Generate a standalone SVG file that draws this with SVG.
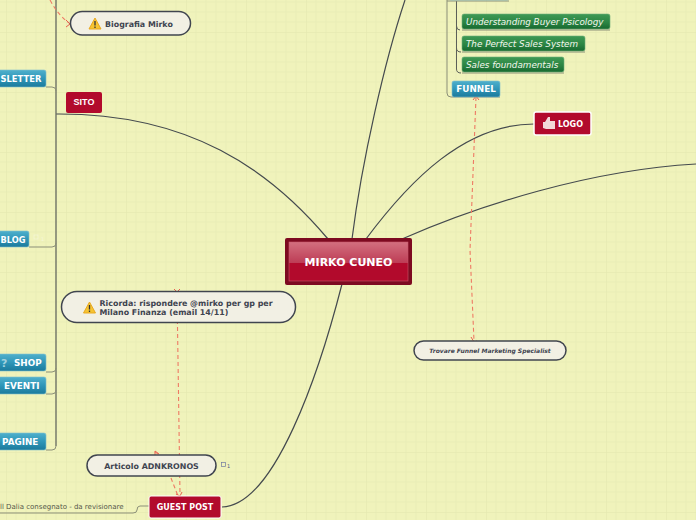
<svg xmlns="http://www.w3.org/2000/svg" width="696" height="520" viewBox="0 0 696 520">
<defs>
<style>
text{font-family:"DejaVu Sans",sans-serif}
.c{fill:none;stroke:#444a4e;stroke-width:1.2}
.t{fill:none;stroke:#8b8f78;stroke-width:1}
.d{fill:none;stroke:#ee7a64;stroke-width:1.100;stroke-dasharray:4 3}
.a{fill:none;stroke:#e8604f;stroke-width:1}
.p{fill:#f2f0e4;stroke:#40454f;stroke-width:1.500}
.pt{fill:#3f4450;font-weight:bold;font-size:7.9px}
.b{fill:url(#blue);stroke:#7fc0cf;stroke-width:.6}
.bt{fill:#fff;font-weight:bold;font-size:8.8px}
.g{fill:url(#green);stroke:#6fae78;stroke-width:.6}
.gt{fill:#f4f7ee;font-style:italic;font-size:8.8px}
.r{fill:#b20a2c}
</style>
<pattern id="grid" width="60" height="60" patternUnits="userSpaceOnUse" x="6" y="32">
<path d="M10 0V60M20 0V60M30 0V60M40 0V60M50 0V60M0 10H60M0 20H60M0 30H60M0 40H60M0 50H60" fill="none" stroke="#e9edb6" stroke-width="1"/>
<path d="M60 0H0V60" fill="none" stroke="#e2e6ae" stroke-width="1"/>
</pattern>
<linearGradient id="blue" x1="0" y1="0" x2="0" y2="1"><stop offset="0" stop-color="#4fb0cc"/><stop offset=".5" stop-color="#2f96b8"/><stop offset="1" stop-color="#1b7a9c"/></linearGradient>
<linearGradient id="green" x1="0" y1="0" x2="0" y2="1"><stop offset="0" stop-color="#3f9a55"/><stop offset=".6" stop-color="#2a8342"/><stop offset="1" stop-color="#17692f"/></linearGradient>
<linearGradient id="top" x1="0" y1="0" x2="0" y2="1"><stop offset="0" stop-color="#d3707f"/><stop offset="1" stop-color="#bd3c55"/></linearGradient>
</defs>
<rect width="696" height="520" fill="#f0f3bb"/>
<rect width="696" height="520" fill="url(#grid)"/>
<g id="connectors">
<path class="c" d="M328 239C270 170 190 113 56 114"/>
<path class="c" d="M352 239C362 160 385 60 405 0"/>
<path class="c" d="M366 239C410 180 465 124 534 124"/>
<path class="c" d="M402 239C480 205 590 170 696 164"/>
<path class="c" d="M342 284C320 370 275 506 222 507"/>
<path d="M56 0V446" fill="none" stroke="#6f7366" stroke-width="1.400"/>
<path class="t" d="M46 87H52Q56 87 56 91M29 247H52Q56 247 56 243M46 372H52Q56 372 56 368M46 394H52Q56 394 56 390M46 450H52Q56 450 56 446"/>
<path class="t" d="M149 506H140Q137 506 137 510Q137 513 133 513H0"/>
<path d="M456.500 1V26Q456.500 30 460 30M456.500 26V48Q456.500 52 461 52M456.500 48V69Q456.500 73 461 73" fill="none" stroke="#5c6058" stroke-width="1"/>
<path class="t" d="M462 30H610M462 52H585M462 73H564"/>
<path class="t" d="M447 0V93Q447 97 451 97H500"/>
<path class="t" d="M447 1H509"/>
<path class="d" d="M50 0Q58 15 69 23"/>
<path class="a" d="M66 20L70 24L66 27"/>
<path class="d" d="M476 97L470 250L474 341"/>
<path class="a" d="M473 100L476 96L479 100M471 337L474 342L477 341"/>
<path class="d" d="M177 292L180 495"/>
<path class="a" d="M174 289L177 292L180 289"/>
<path class="d" d="M171 478L178 496"/>
<path class="a" d="M155 451L159 454M155 451V455M176 494L180 496L182 492"/>
<path class="d" d="M155 452L160 455"/>
</g>
<g id="n-center">
<rect x="285" y="238" width="127" height="47" rx="2" fill="#7d0a20"/>
<rect x="289" y="242" width="119" height="39" fill="#b20a2c"/>
<rect x="289" y="242" width="119" height="21" fill="url(#top)"/>
<rect x="289" y="242" width="119" height="39" fill="none" stroke="#c9596c" stroke-width=".6"/>
<text x="348.500" y="266" text-anchor="middle" fill="#fff" font-weight="bold" font-size="11">MIRKO CUNEO</text>
</g>
<g id="n-bio">
<rect class="p" x="70.500" y="11.500" width="120" height="23.500" rx="11.700"/>
<path d="M95 18L101 29H89Z" fill="#f6c431" stroke="#e9a820" stroke-width="1" stroke-linejoin="round"/><path d="M95 21V25.500M95 26.500V28" stroke="#333" stroke-width="1.300"/>
<text class="pt" x="105" y="27">Biografia Mirko</text>
</g>
<g id="n-sito">
<rect class="r" x="66" y="92" width="36" height="21" rx="2"/>
<text x="84" y="105" text-anchor="middle" fill="#fff" font-weight="bold" font-size="9" style="font-family:'Liberation Sans',sans-serif">SITO</text>
</g>
<g id="n-newsletter">
<rect class="b" x="-30" y="70" width="76" height="17" rx="2"/>
<text class="bt" x="0.500" y="82" style="font-size:8.400px">SLETTER</text>
</g>
<g id="n-blog">
<rect class="b" x="-30" y="231" width="59" height="16" rx="2"/>
<text class="bt" x="0.500" y="243" style="font-size:8.200px">BLOG</text>
<rect x="34" y="235" width="4" height="4" fill="none" stroke="#f4f6d8" stroke-width=".7"/><text x="41" y="241" fill="#f4f6d8" font-size="5">1</text>
</g>
<g id="n-shop">
<rect class="b" x="-30" y="354" width="76" height="17" rx="2"/>
<text x="1" y="367" fill="#9fd0dd" font-weight="bold" font-size="11">?</text>
<text class="bt" x="14" y="366">SHOP</text>
</g>
<g id="n-eventi">
<rect class="b" x="-30" y="377" width="76" height="17" rx="2"/>
<text class="bt" x="4" y="389">EVENTI</text>
</g>
<g id="n-pagine">
<rect class="b" x="-30" y="433" width="76" height="17" rx="2"/>
<text class="bt" x="2" y="445">PAGINE</text>
</g>
<g id="n-ricorda">
<rect class="p" x="61.500" y="291.500" width="234" height="31" rx="15.500"/>
<path d="M89.500 302L95.500 313H83.500Z" fill="#f6c431" stroke="#e9a820" stroke-width="1" stroke-linejoin="round"/><path d="M89.500 305V309.500M89.500 310.500V312" stroke="#333" stroke-width="1.300"/>
<text class="pt" x="99.500" y="306">Ricorda: rispondere @mirko per gp per</text>
<text class="pt" x="99.500" y="315">Milano Finanza (email 14/11)</text>
</g>
<g id="n-adnkronos">
<rect class="p" x="87" y="455" width="129" height="21" rx="10.500"/>
<text class="pt" x="151.500" y="469" text-anchor="middle">Articolo ADNKRONOS</text>
<rect x="221.500" y="462.500" width="4" height="4" fill="none" stroke="#7078a0" stroke-width=".7"/><text x="227" y="468" fill="#505a80" font-size="5">1</text>
</g>
<g id="n-guest">
<rect x="149" y="496" width="72" height="22" rx="2" fill="#b20a2c" stroke="#fff" stroke-width="1"/>
<text x="185" y="510" text-anchor="middle" fill="#fff" font-weight="bold" font-size="8">GUEST POST</text>
</g>
<g id="n-dalia">
<text x="0" y="509" fill="#55584a" font-size="7">ll Dalia consegnato - da revisionare</text>
</g>
<g id="n-trovare">
<rect class="p" x="414" y="341" width="152" height="19" rx="9.500"/>
<text x="490" y="353" text-anchor="middle" fill="#3f4450" font-weight="bold" font-style="italic" font-size="6">Trovare Funnel Marketing Specialist</text>
</g>
<g id="n-top">
<rect class="b" x="449" y="-15" width="60" height="15" rx="2"/>
</g>
<g id="n-buyer">
<rect class="g" x="462" y="14" width="148" height="15" rx="2"/>
<text class="gt" x="466" y="25">Understanding Buyer Psicology</text>
</g>
<g id="n-sales-system">
<rect class="g" x="462" y="36" width="123" height="15" rx="2"/>
<text class="gt" x="466" y="47">The Perfect Sales System</text>
</g>
<g id="n-foundamentals">
<rect class="g" x="462" y="57" width="102" height="15" rx="2"/>
<text class="gt" x="466" y="68">Sales foundamentals</text>
</g>
<g id="n-funnel">
<rect class="b" x="452" y="81" width="48" height="16" rx="2"/>
<text class="bt" x="476" y="92" text-anchor="middle">FUNNEL</text>
</g>
<g id="n-logo">
<rect x="534" y="112" width="57" height="23" rx="2" fill="#b20a2c" stroke="#fff" stroke-width="1.500"/>
<path d="M543 122H545L548 117H550V121H555V129H546L543 128Z" fill="#f2d8d8"/>
<text x="558" y="127" fill="#fff" font-weight="bold" font-size="8">LOGO</text>
</g>
</svg>
